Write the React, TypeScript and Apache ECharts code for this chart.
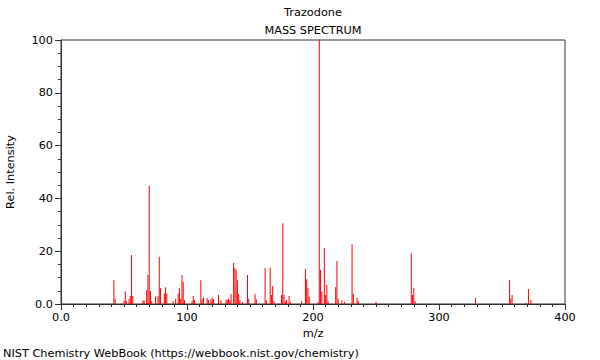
import React, { useEffect, useRef } from "react";
import * as echarts from "echarts";

const mzValues = [
  42, 43, 50, 51, 52, 54, 55, 56, 57, 65, 66, 68, 69, 70, 71, 72, 75, 77, 78, 79,
  82, 83, 84, 89, 91, 93, 94, 95, 96, 97, 98, 104, 105, 106, 111, 112, 113, 116, 117,
  119, 120, 121, 125, 127, 131, 132, 133, 134, 135, 137, 138, 139, 140, 141, 142, 144,
  148, 149, 154, 155, 162, 163, 166, 167, 168, 169, 175, 176, 177, 178, 179, 181, 182,
  191, 194, 195, 196, 197, 204, 205, 206, 207, 209, 210, 211, 212, 218, 219, 220, 223,
  225, 231, 232, 235, 236, 250, 278, 279, 280, 281, 329, 356, 357, 358, 369, 371, 373,
];
const intensities = [
  9.1, 2, 1.2, 4.7, 1, 1.9, 3, 18.6, 3, 1.3, 1.2, 5.3, 11, 44.7, 4.9, 1, 2.8, 3, 17.9, 6,
  4, 6.3, 4, 1, 2, 4, 6, 2, 11, 8.3, 1.4, 1, 3, 1.5, 9, 1.8, 2.6, 2.3, 1.5,
  1.8, 2.5, 1.8, 3.4, 1.4, 1.6, 1.6, 2, 1.4, 3.8, 15.5, 13.6, 13, 9, 3.8, 1.4, 0.8,
  11, 2, 3.7, 1.8, 13.6, 1.4, 13.8, 3.4, 6.8, 1, 3.4, 30.6, 3.4, 1, 1.5, 3, 0.8,
  1, 13.3, 9.4, 6.2, 2.8, 0.8, 100, 12.9, 4.7, 21.2, 3.4, 7.2, 1, 6.4, 16.3, 2, 1.3,
  0.8, 22.6, 3.9, 2.4, 1, 0.8, 19.2, 3.4, 6.2, 1, 2.4, 9.1, 2, 3.4, 0.5, 5.7, 1.5,
];

const titleText = "Trazodone";
const subtitleText = "MASS SPECTRUM";
const xAxisName = "m/z";
const yAxisName = "Rel. Intensity";
const footerText = "NIST Chemistry WebBook (https://webbook.nist.gov/chemistry)";

const FONT = "DejaVu Sans";
const FS = 11.3;

function txt(text: string, x: number, y: number, align: string, rotation = 0) {
  return {
    type: "text",
    x,
    y,
    rotation,
    style: {
      text,
      align,
      verticalAlign: "middle",
      font: `${FS}px "${FONT}"`,
      fill: "#000",
    },
  };
}

export default function App() {
  const ref = useRef<HTMLDivElement>(null);
  useEffect(() => {
    if (!ref.current) return;
    const chart = echarts.init(ref.current, null, { renderer: "svg" });
    const data = mzValues.map((m, i) => [m, intensities[i]]);
    chart.setOption({
      animation: false,
      backgroundColor: "#ffffff",
      grid: {
        left: 61,
        right: 35,
        top: 40,
        bottom: 56,
        containLabel: false,
        outerBoundsMode: "none",
        show: true,
        borderColor: "#333",
        borderWidth: 1,
        backgroundColor: "transparent",
      },
      graphic: [
        txt(titleText, 313, 12, "center"),
        txt(subtitleText, 313, 30, "center"),
        txt(xAxisName, 313, 333, "center"),
        txt(yAxisName, 10, 172, "center", Math.PI / 2),
        txt(footerText, 3, 353, "left"),
      ],
      xAxis: {
        type: "value",
        min: 0,
        max: 400,
        interval: 100,
        axisLine: { show: true, lineStyle: { color: "#333", width: 1 } },
        axisTick: { show: true, length: 6, lineStyle: { color: "#333" } },
        minorTick: { show: true, splitNumber: 10, length: 3, lineStyle: { color: "#333" } },
        splitLine: { show: false },
        axisLabel: {
          fontFamily: FONT,
          fontSize: FS,
          color: "#000",
          margin: 8,
          formatter: (v: number) => (v === 0 ? "0.0" : String(v)),
        },
      },
      yAxis: {
        type: "value",
        min: 0,
        max: 100,
        interval: 20,
        axisLine: { show: true, lineStyle: { color: "#333", width: 1 } },
        axisTick: { show: true, length: 6, lineStyle: { color: "#333" } },
        minorTick: { show: true, splitNumber: 4, length: 3, lineStyle: { color: "#333" } },
        splitLine: { show: false },
        axisLabel: {
          fontFamily: FONT,
          fontSize: FS,
          color: "#000",
          margin: 8,
          formatter: (v: number) => (v === 0 ? "0.0" : String(v)),
        },
      },
      series: [
        {
          type: "bar",
          data,
          barWidth: 1,
          itemStyle: { color: "#ff0000" },
          silent: true,
        },
      ],
    });
    return () => chart.dispose();
  }, []);
  return (
    <div
      ref={ref}
      style={{ position: "fixed", left: 0, top: 0, width: 600, height: 360 }}
    />
  );
}
